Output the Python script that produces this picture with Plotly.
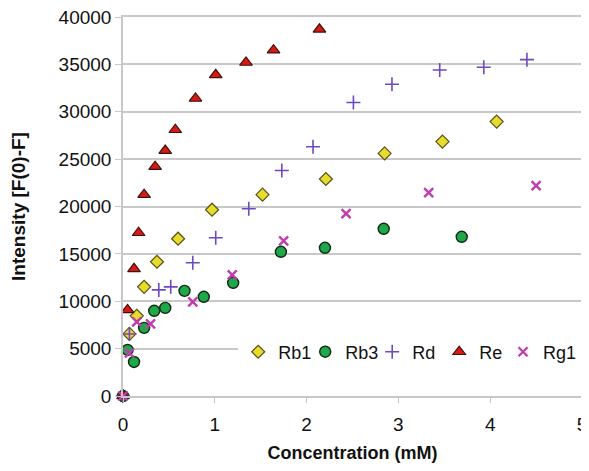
import plotly.graph_objects as go

# Data
rb1_x = [0, 0.07, 0.15, 0.23, 0.37, 0.60, 0.97, 1.52, 2.21, 2.85, 3.48, 4.07]
rb1_y = [0, 6550, 8460, 11520, 14170, 16600, 19660, 21250, 22900, 25600, 26850, 28960]

rb3_x = [0, 0.05, 0.12, 0.23, 0.34, 0.46, 0.67, 0.88, 1.20, 1.72, 2.20, 2.84, 3.69]
rb3_y = [0, 4860, 3590, 7190, 8990, 9300, 11100, 10470, 11950, 15220, 15640, 17650, 16800]

rd_x = [0, 0.07, 0.39, 0.52, 0.76, 1.01, 1.37, 1.73, 2.07, 2.51, 2.93, 3.45, 3.93, 4.40]
rd_y = [0, 6550, 11200, 11520, 14060, 16700, 19770, 23800, 26300, 30970, 32900, 34400, 34700, 35500]

re_x = [0, 0.05, 0.12, 0.17, 0.23, 0.35, 0.46, 0.57, 0.79, 1.01, 1.34, 1.64, 2.14]
re_y = [0, 9090, 13420, 17230, 21250, 24200, 25900, 28100, 31400, 33900, 35200, 36500, 38700]

rg1_x = [0, 0.07, 0.15, 0.30, 0.76, 1.19, 1.75, 2.43, 3.33, 4.50]
rg1_y = [0, 4540, 7820, 7610, 9940, 12790, 16380, 19240, 21460, 22200]

x_ticks = [0, 1, 2, 3, 4, 5]
y_ticks = [0, 5000, 10000, 15000, 20000, 25000, 30000, 35000, 40000]
y_tick_labels = ["0", "5000", "10000", "15000", "20000", "25000", "30000", "35000", "40000"]

FONT = "Liberation Sans, Arial, sans-serif"

fig = go.Figure()
fig.add_trace(go.Scatter(x=rb1_x, y=rb1_y, mode="markers", name="Rb1", legend="legend",
                         marker=dict(symbol="diamond", size=10, color="#E6DC2A",
                                     line=dict(color="#5A5020", width=1.2))))
fig.add_trace(go.Scatter(x=rb3_x, y=rb3_y, mode="markers", name="Rb3", legend="legend",
                         marker=dict(symbol="circle", size=11, color="#1FA84A",
                                     line=dict(color="#102810", width=1.4))))
fig.add_trace(go.Scatter(x=rd_x, y=rd_y, mode="markers", name="Rd", legend="legend",
                         marker=dict(symbol="cross-thin-open", size=10, color="#7048C0",
                                     line=dict(color="#7048C0", width=1.6))))
fig.add_trace(go.Scatter(x=re_x, y=re_y, mode="markers", name="Re", legend="legend",
                         marker=dict(symbol="triangle-up", size=11, color="#D81A14",
                                     line=dict(color="#401010", width=1.2))))
fig.add_trace(go.Scatter(x=rg1_x, y=rg1_y, mode="markers", name="Rg1", legend="legend2",
                         marker=dict(symbol="x-thin-open", size=9, color="#C03CB0",
                                     line=dict(color="#C03CB0", width=2.4))))

for tr in fig.data:
    tr.cliponaxis = False

# The page body has an 8px margin; the figure is sized so the page does not overflow
# the window, and margins place the plot where the reference has it.
fig.update_layout(
    width=581, height=455,
    margin=dict(l=115, r=7, t=9, b=67),
    paper_bgcolor="white", plot_bgcolor="white",
    font=dict(family=FONT, size=19, color="#111111"),
    showlegend=True,
    legend=dict(orientation="h", x=0.251, y=0.116, xanchor="left", yanchor="middle",
                bgcolor="white", font=dict(size=18), itemwidth=30,
                entrywidth=22, entrywidthmode="pixels",
                tracegroupgap=0, traceorder="normal"),
    legend2=dict(orientation="h", x=0.828, y=0.116, xanchor="left", yanchor="middle",
                 bgcolor="white", font=dict(size=18), itemwidth=30),
    xaxis=dict(range=[0, 5], tickvals=x_ticks, showgrid=False, zeroline=False,
               automargin=False, ticklabelstandoff=5, ticklabeloverflow="allow",
               showline=True, linecolor="#C8C8C8", linewidth=1.5, mirror=True,
               ticks="outside", ticklen=5, tickcolor="#C8C8C8",
               title=dict(text="<b>Concentration (mM)</b>", font=dict(size=18), standoff=14)),
    yaxis=dict(range=[0, 40000], tickvals=y_ticks, ticktext=y_tick_labels,
               showgrid=True, gridcolor="#C8C8C8", ticklabeloverflow="allow",
               gridwidth=1.5, zeroline=False, automargin=False,
               showline=True, linecolor="#C8C8C8", linewidth=1.5, mirror=True,
               ticks="outside", ticklen=6, tickcolor="#C8C8C8",
               title=dict(text="<b>Intensity [F(0)-F]</b>", font=dict(size=19), standoff=32)),
)

fig.write_html("out.html")
